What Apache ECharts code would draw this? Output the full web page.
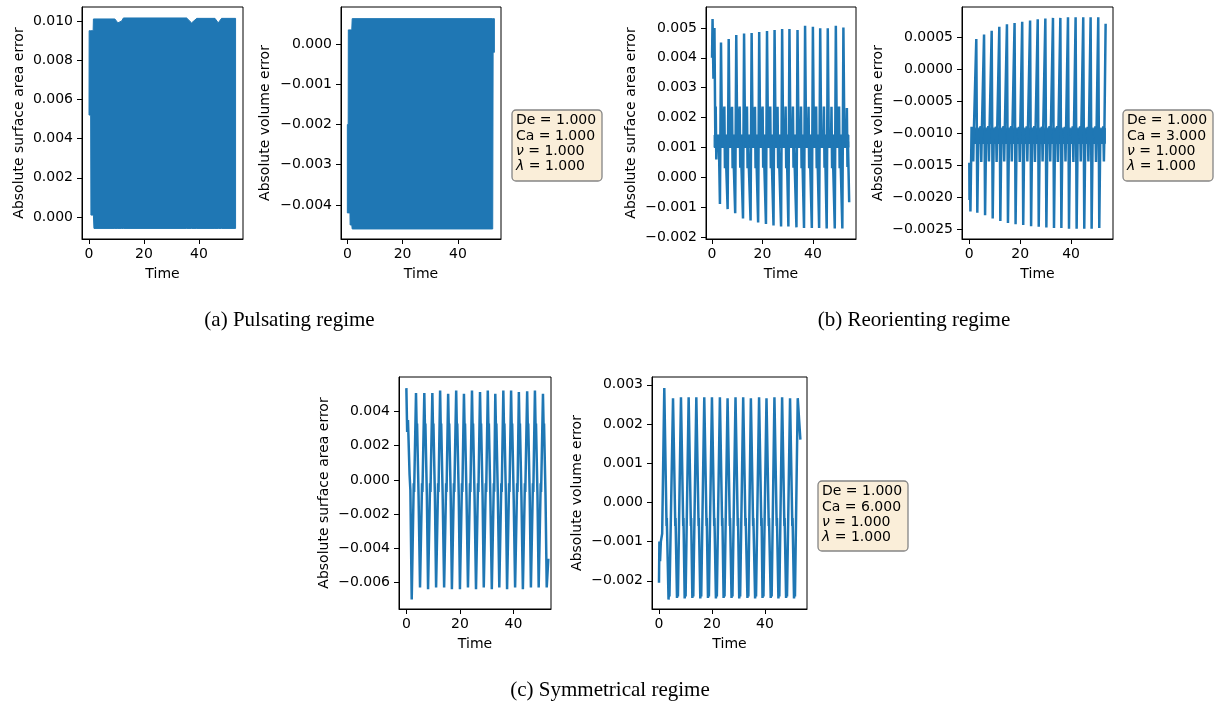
<!DOCTYPE html>
<html>
<head>
<meta charset="utf-8">
<script src="https://cdn.jsdelivr.net/npm/echarts@6/dist/echarts.min.js"></script>
<style>
  html, body { margin: 0; padding: 0; background: #fff; }
  #chart { width: 1221px; height: 707px; }
</style>
</head>
<body>
<div id="chart"></div>
<script>
// ---------- tick values and their printed labels ----------
const timeTicks = [0, 20, 40];
const timeTickLabels = ['0', '20', '40'];

const aAreaTicks = [0, 0.002, 0.004, 0.006, 0.008, 0.010];
const aAreaTickLabels = ['0.000', '0.002', '0.004', '0.006', '0.008', '0.010'];
const aVolTicks = [-0.004, -0.003, -0.002, -0.001, 0];
const aVolTickLabels = ['\u22120.004', '\u22120.003', '\u22120.002', '\u22120.001', '0.000'];
const bAreaTicks = [-0.002, -0.001, 0, 0.001, 0.002, 0.003, 0.004, 0.005];
const bAreaTickLabels = ['\u22120.002', '\u22120.001', '0.000', '0.001', '0.002', '0.003', '0.004', '0.005'];
const bVolTicks = [-0.0025, -0.002, -0.0015, -0.001, -0.0005, 0, 0.0005];
const bVolTickLabels = ['\u22120.0025', '\u22120.0020', '\u22120.0015', '\u22120.0010', '\u22120.0005', '0.0000', '0.0005'];
const cAreaTicks = [-0.006, -0.004, -0.002, 0, 0.002, 0.004];
const cAreaTickLabels = ['\u22120.006', '\u22120.004', '\u22120.002', '0.000', '0.002', '0.004'];
const cVolTicks = [-0.002, -0.001, 0, 0.001, 0.002, 0.003];
const cVolTickLabels = ['\u22120.002', '\u22120.001', '0.000', '0.001', '0.002', '0.003'];

// ---------- (a) pulsating regime: envelope of the dense oscillation ----------
const aAreaTime  = [0, 0.05, 0.6, 0.7, 1.5, 1.6, 1.8, 9.4, 10.5, 11.9, 12.5, 35.5, 37.3, 39.2, 45.8, 47.0, 48.2, 53.3];
const aAreaUpper = [0.0053, 0.0095, 0.0095, 0.0095, 0.0095, 0.0101, 0.0101, 0.0101, 0.0099, 0.0100, 0.01015, 0.01015, 0.0099, 0.01013, 0.01013, 0.0099, 0.01013, 0.01013];
const aAreaLower = [0.0052, 0.0052, 0.0052, 0.0001, 0.0001, 0.0001, -0.00058, -0.00058, -0.00058, -0.00058, -0.00058, -0.00058, -0.00058, -0.00058, -0.00058, -0.00058, -0.00058, -0.00058];

const aVolTime  = [0, 0.3, 0.35, 0.95, 1.0, 1.6, 1.75, 52.6, 52.75, 53.2];
const aVolUpper = [-0.0020, -0.0020, 0.00036, 0.00036, 0.00036, 0.00036, 0.00064, 0.00064, 0.00064, 0.00064];
const aVolLower = [-0.0042, -0.0042, -0.0042, -0.0042, -0.0045, -0.0045, -0.0046, -0.0046, -0.0002, -0.0002];

// ---------- (b) reorienting regime ----------
const bAreaStart = [[0, 0.0040], [0.2, 0.0053], [0.55, 0.0033], [0.95, 0.0050], [1.3, 0.0012]];
const bAreaMid = 0.0012;
const bAreaBandTime = [0.8, 54.3];
const bAreaBandLow  = [0.00100, 0.00100];
const bAreaBandHigh = [0.00142, 0.00142];
const bAreaSideTime = [1.57, 5.0, 8.04, 11.07, 13.97, 17.14, 20.17, 23.2, 26.1, 29.3, 32.2, 35.4, 38.4, 41.4, 44.5, 47.5, 50.5, 53.6];
const bAreaSideHigh = [0.00237, 0.00237, 0.00236, 0.00237, 0.00237, 0.00236, 0.00237, 0.00237, 0.00236, 0.00237, 0.00237, 0.00237, 0.00236, 0.00237, 0.00237, 0.00236, 0.00237, 0.00232];
const bAreaSideLow  = [0.00060, 0.00031, 0.00031, 0.00032, 0.00031, 0.00031, 0.00032, 0.00031, 0.00031, 0.00031, 0.00032, 0.00031, 0.00031, 0.00031, 0.00032, 0.00031, 0.00031, 0.00035];
const bAreaPeakTime = [3.55, 6.6, 9.6, 12.7, 15.7, 18.7, 21.8, 24.8, 27.8, 30.7, 33.9, 36.9, 40.0, 42.9, 45.9, 49.1, 52.1];
const bAreaPeak   = [0.00451, 0.00463, 0.00476, 0.00481, 0.00483, 0.00486, 0.00490, 0.00493, 0.00496, 0.00496, 0.00493, 0.00507, 0.00504, 0.00499, 0.00499, 0.00507, 0.00501];
const bAreaTrough = [-0.00089, -0.00106, -0.00120, -0.00137, -0.00144, -0.00151, -0.00156, -0.00161, -0.00164, -0.00164, -0.00167, -0.00169, -0.00169, -0.00169, -0.00171, -0.00171, -0.00171];
const bAreaEnd = [[54.0, 0.0012], [54.4, -0.00083]];

const bVolStart = [[0, -0.00146], [0.08, -0.00204], [0.2, -0.00150], [0.45, -0.00222], [0.9, -0.00090], [1.1, -0.00105]];
const bVolMid = -0.00105;
const bVolBandTime = [0.9, 53.5];
const bVolBandLow  = [-0.00116, -0.00116];
const bVolBandHigh = [-0.00092, -0.00092];
const bVolSideTime = [1.44, 4.59, 7.6, 10.62, 13.6, 16.6, 19.7, 22.7, 25.7, 28.7, 31.7, 34.7, 37.7, 40.8, 43.7, 46.7, 49.7, 52.8];
const bVolSideHigh = [-0.00090, -0.00089, -0.00089, -0.00090, -0.00089, -0.00089, -0.00090, -0.00089, -0.00089, -0.00090, -0.00089, -0.00089, -0.00090, -0.00089, -0.00089, -0.00090, -0.00089, -0.00089];
const bVolSideLow  = [-0.00144, -0.00145, -0.00144, -0.00145, -0.00144, -0.00144, -0.00145, -0.00144, -0.00145, -0.00144, -0.00144, -0.00145, -0.00144, -0.00145, -0.00144, -0.00144, -0.00145, -0.00144];
const bVolPeakTime = [2.75, 5.8, 8.8, 11.8, 14.8, 17.8, 20.8, 23.9, 26.9, 29.9, 32.9, 35.8, 38.8, 41.8, 44.8, 47.7, 50.7];
const bVolPeak   = [0.00047, 0.00054, 0.00060, 0.00066, 0.00070, 0.00072, 0.00074, 0.00076, 0.00078, 0.00079, 0.00080, 0.00080, 0.00081, 0.00081, 0.00081, 0.00081, 0.00081];
const bVolTrough = [-0.00224, -0.00228, -0.00233, -0.00237, -0.00240, -0.00242, -0.00243, -0.00245, -0.00246, -0.00247, -0.00248, -0.00248, -0.00249, -0.00249, -0.00249, -0.00249, -0.00248];
const bVolEnd = [[53.3, -0.00105], [53.6, 0.00071]];

// ---------- (c) symmetrical regime ----------
const cAreaStart = [[0, 0.00537], [0.3, 0.0028], [0.6, 0.0035], [1.2, 0.0003], [1.5, -0.0006]];
const cAreaTroughTime = [2.0, 5.1, 8.1, 11.1, 14.1, 17.0, 20.0, 23.0, 26.0, 28.9, 31.9, 34.7, 37.6, 40.6, 43.5, 46.5, 49.4, 52.4];
const cAreaTrough = [-0.00699, -0.00629, -0.00639, -0.00629, -0.00629, -0.00639, -0.00639, -0.00629, -0.00639, -0.00629, -0.00639, -0.00629, -0.00639, -0.00629, -0.00639, -0.00629, -0.00629, -0.00629];
const cAreaPeakTime = [3.6, 6.7, 9.7, 12.6, 15.6, 18.6, 21.5, 24.5, 27.5, 30.4, 33.2, 36.2, 39.1, 42.0, 45.1, 48.0, 51.0];
const cAreaPeak = [0.00508, 0.00508, 0.00508, 0.00523, 0.00504, 0.00523, 0.00504, 0.00523, 0.00514, 0.00523, 0.00504, 0.00523, 0.00523, 0.00514, 0.00518, 0.00523, 0.00504];
const cAreaFall = [0.0030, 0.0033, -0.0009];   // shoulder levels on the way down
const cAreaRise = [-0.0002, -0.0007];          // kink levels on the way up
const cAreaEnd = [[53.0, -0.0046]];

const cVolStart = [[0, -0.00205], [0.15, -0.0010], [0.4, -0.0015], [0.7, -0.0010], [1.2, -0.0008]];
const cVolPeakTime = [2.0, 5.3, 8.3, 11.2, 14.1, 17.1, 20.0, 23.0, 25.9, 28.9, 31.8, 34.7, 37.8, 40.6, 43.6, 46.5, 49.5, 52.4];
const cVolPeak = [0.00292, 0.00266, 0.00268, 0.00268, 0.00268, 0.00268, 0.00268, 0.00268, 0.00266, 0.00268, 0.00268, 0.00266, 0.00268, 0.00266, 0.00268, 0.00268, 0.00266, 0.00266];
const cVolTroughTime = [3.6, 6.8, 9.7, 12.6, 15.6, 18.5, 21.5, 24.4, 27.4, 30.3, 33.4, 36.3, 39.1, 42.2, 45.1, 48.0, 51.0];
const cVolTrough = [-0.00248, -0.00244, -0.00245, -0.00244, -0.00245, -0.00244, -0.00245, -0.00244, -0.00244, -0.00245, -0.00244, -0.00245, -0.00244, -0.00244, -0.00245, -0.00244, -0.00245];
const cVolFall = [-0.0006, -0.0004];
const cVolRise = [-0.0022, -0.0024];
const cVolEnd = [[53.4, 0.0016]];

// ---------- assemble polylines from the per-cycle readings ----------
function buildB(start, side, sideHi, sideLo, mid, peakT, peak, trough, end, troughAfter) {
  const pts = start.slice();
  for (let i = 0; i < side.length; i++) {
    const s = side[i];
    pts.push([s - 0.3, mid], [s - 0.12, sideHi[i]], [s + 0.12, sideLo[i]], [s + 0.3, mid]);
    if (i < peakT.length) {
      const p = peakT[i];
      if (troughAfter) {
        pts.push([p - 0.4, mid], [p, peak[i]], [p + 0.4, trough[i]], [p + 0.8, mid]);
      } else {
        pts.push([p - 0.85, mid], [p - 0.42, trough[i]], [p, peak[i]], [p + 0.4, mid]);
      }
    }
  }
  return pts.concat(end);
}

function buildArea() {
  const pts = cAreaStart.slice();
  for (let i = 0; i < cAreaTroughTime.length; i++) {
    const tr = cAreaTroughTime[i];
    pts.push([tr, cAreaTrough[i]]);
    if (i < cAreaPeakTime.length) {
      const p = cAreaPeakTime[i];
      pts.push([tr + 0.75, cAreaRise[0]], [tr + 0.9, cAreaRise[1]], [p, cAreaPeak[i]]);
      pts.push([p + 0.25, cAreaFall[0]], [p + 0.4, cAreaFall[1]], [p + 0.95, cAreaFall[2]]);
    }
  }
  return pts.concat(cAreaEnd);
}

function buildVol() {
  const pts = cVolStart.slice();
  for (let i = 0; i < cVolPeakTime.length; i++) {
    const p = cVolPeakTime[i];
    pts.push([p, cVolPeak[i]]);
    if (i < cVolTroughTime.length) {
      const tr = cVolTroughTime[i];
      pts.push([p + 0.85, cVolFall[0]], [p + 0.95, cVolFall[1]], [tr, cVolTrough[i]]);
      pts.push([tr + 0.25, cVolRise[0]], [tr + 0.35, cVolRise[1]]);
    }
  }
  return pts.concat(cVolEnd);
}

const bAreaLine = buildB(bAreaStart, bAreaSideTime, bAreaSideHigh, bAreaSideLow, bAreaMid,
                         bAreaPeakTime, bAreaPeak, bAreaTrough, bAreaEnd, false);
const bVolLine = buildB(bVolStart, bVolSideTime, bVolSideHigh, bVolSideLow, bVolMid,
                        bVolPeakTime, bVolPeak, bVolTrough, bVolEnd, true);
const cAreaLine = buildArea();
const cVolLine = buildVol();

// ---------- layout ----------
const BLUE = '#1f77b4';
const FONT = 'DejaVu Sans';
const SERIF = 'Liberation Serif';

const panels = [
  { box: [82, 7, 161, 232],   x: [-2.55, 56.0], y: [-0.00112, 0.01071], yt: aAreaTicks, yl: aAreaTickLabels, name: 'Absolute surface area error', nameX: 19 },
  { box: [341, 7, 160, 232],  x: [-2.3, 55.6],  y: [-0.00485, 0.00093], yt: aVolTicks,  yl: aVolTickLabels,  name: 'Absolute volume error',       nameX: 265 },
  { box: [706, 7, 150, 232],  x: [-2.4, 57.1],  y: [-0.00206, 0.0057],  yt: bAreaTicks, yl: bAreaTickLabels, name: 'Absolute surface area error', nameX: 631 },
  { box: [962, 7, 151, 232],  x: [-2.87, 56.5], y: [-0.00265, 0.00097], yt: bVolTicks,  yl: bVolTickLabels,  name: 'Absolute volume error',       nameX: 878 },
  { box: [399, 377, 152, 232], x: [-2.75, 54.0], y: [-0.00755, 0.00602], yt: cAreaTicks, yl: cAreaTickLabels, name: 'Absolute surface area error', nameX: 324 },
  { box: [652, 377, 155, 232], x: [-2.64, 55.9], y: [-0.00272, 0.0032],  yt: cVolTicks,  yl: cVolTickLabels,  name: 'Absolute volume error',       nameX: 577 }
];

function labelOf(ticks, labels) {
  return function (v) {
    const i = ticks.findIndex(t => Math.abs(t - v) < 1e-9);
    return i < 0 ? '' : labels[i];
  };
}

const grids = panels.map(p => ({
  left: p.box[0], top: p.box[1], width: p.box[2], height: p.box[3],
  show: true, borderColor: '#000', borderWidth: 1, backgroundColor: 'transparent',
  containLabel: false, outerBoundsMode: 'none'
}));

const xAxes = panels.map((p, i) => ({
  type: 'value', gridIndex: i, min: p.x[0], max: p.x[1],
  axisLine: { show: true, onZero: false, lineStyle: { color: '#000', width: 1 } },
  axisTick: { show: true, length: 5, lineStyle: { color: '#000', width: 1 }, customValues: timeTicks },
  axisLabel: { customValues: timeTicks, formatter: labelOf(timeTicks, timeTickLabels),
               color: '#000', fontFamily: FONT, fontSize: 14, margin: 8 },
  splitLine: { show: false }
}));

const yAxes = panels.map((p, i) => ({
  type: 'value', gridIndex: i, min: p.y[0], max: p.y[1],
  axisLine: { show: true, onZero: false, lineStyle: { color: '#000', width: 1 } },
  axisTick: { show: true, length: 5, lineStyle: { color: '#000', width: 1 }, customValues: p.yt },
  axisLabel: { customValues: p.yt, formatter: labelOf(p.yt, p.yl),
               color: '#000', fontFamily: FONT, fontSize: 14, margin: 9 },
  splitLine: { show: false }
}));

// filled band between two envelopes, drawn through the axis scales
function bandSeries(idx, times, lower, upper) {
  return {
    type: 'custom', xAxisIndex: idx, yAxisIndex: idx, silent: true, z: 2,
    data: [[times[0], lower[0]]],
    encode: { x: 0, y: 1 },
    renderItem: function (params, api) {
      const pts = [];
      for (let k = 0; k < times.length; k++) pts.push(api.coord([times[k], upper[k]]));
      for (let k = times.length - 1; k >= 0; k--) pts.push(api.coord([times[k], lower[k]]));
      return { type: 'polygon', shape: { points: pts },
               style: { fill: BLUE, stroke: BLUE, lineWidth: 1 } };
    }
  };
}

function lineSeries(idx, data) {
  return {
    type: 'line', xAxisIndex: idx, yAxisIndex: idx, data: data, symbol: 'none',
    silent: true, z: 3, lineStyle: { color: BLUE, width: 2.5, join: 'miter', miterLimit: 2 }
  };
}

const series = [
  bandSeries(0, aAreaTime, aAreaLower, aAreaUpper),
  bandSeries(1, aVolTime, aVolLower, aVolUpper),
  bandSeries(2, bAreaBandTime, bAreaBandLow, bAreaBandHigh),
  lineSeries(2, bAreaLine),
  bandSeries(3, bVolBandTime, bVolBandLow, bVolBandHigh),
  lineSeries(3, bVolLine),
  lineSeries(4, cAreaLine),
  lineSeries(5, cVolLine)
];

// ---------- text: axis titles, parameter boxes, captions ----------
const graphics = [];
panels.forEach(p => {
  const cx = p.box[0] + p.box[2] / 2;
  const cy = p.box[1] + p.box[3] / 2;
  graphics.push({
    type: 'text', x: p.nameX, y: cy, rotation: Math.PI / 2,
    style: { text: p.name, fill: '#000', font: '14px "' + FONT + '"', align: 'center', verticalAlign: 'middle' }
  });
  graphics.push({
    type: 'text', x: cx, y: p.box[1] + p.box[3] + 35,
    style: { text: 'Time', fill: '#000', font: '14px "' + FONT + '"', align: 'center', verticalAlign: 'middle' }
  });
});

const paramBoxes = [
  { x: 512, y: 110, w: 90, h: 71, ca: '1.000' },
  { x: 1123, y: 110, w: 90, h: 71, ca: '3.000' },
  { x: 818, y: 481, w: 90, h: 70, ca: '6.000' }
];
paramBoxes.forEach(b => {
  graphics.push({
    type: 'rect', shape: { x: b.x, y: b.y, width: b.w, height: b.h, r: 4 },
    style: { fill: '#faeed9', stroke: '#858585', lineWidth: 1.3 }
  });
  graphics.push({
    type: 'text', x: b.x + 4, y: b.y + 3,
    style: {
      text: 'De = 1.000\nCa = ' + b.ca + '\n{it|\u03bd} = 1.000\n{it|\u03bb} = 1.000',
      fill: '#000', fontFamily: FONT, fontSize: 14, lineHeight: 15.3,
      align: 'left', verticalAlign: 'top',
      rich: { it: { fontStyle: 'italic', fontFamily: FONT, fontSize: 14, lineHeight: 15.3 } }
    }
  });
});

const captions = [
  { x: 289.5, y: 320, text: '(a) Pulsating regime' },
  { x: 914, y: 320, text: '(b) Reorienting regime' },
  { x: 610, y: 690, text: '(c) Symmetrical regime' }
];
captions.forEach(c => {
  graphics.push({
    type: 'text', x: c.x, y: c.y,
    style: { text: c.text, fill: '#000', font: '21px "' + SERIF + '"', align: 'center', verticalAlign: 'middle' }
  });
});

const chart = echarts.init(document.getElementById('chart'), null, { renderer: 'canvas' });
chart.setOption({
  animation: false,
  backgroundColor: '#fff',
  grid: grids,
  xAxis: xAxes,
  yAxis: yAxes,
  series: series,
  graphic: graphics
});
</script>
</body>
</html>
